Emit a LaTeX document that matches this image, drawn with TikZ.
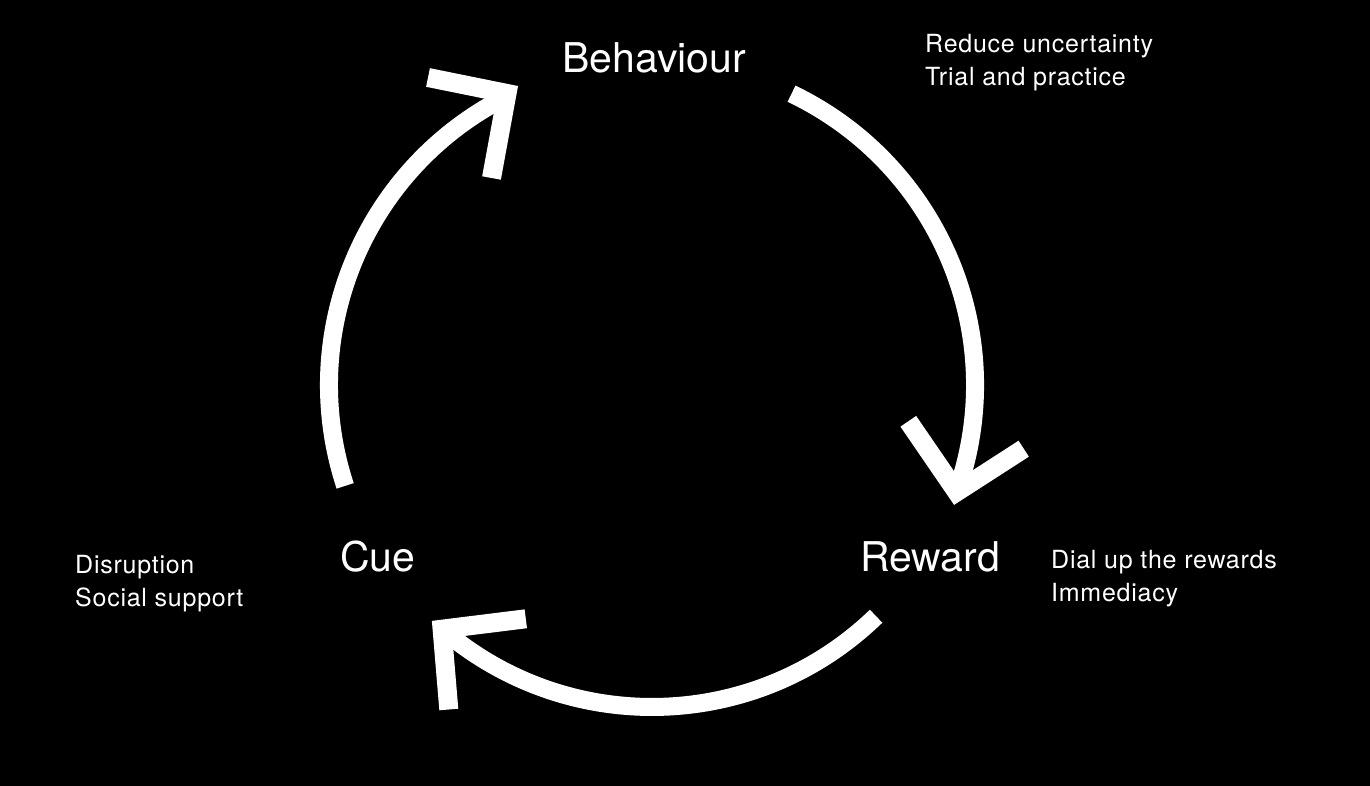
\documentclass[tikz,border=0pt]{standalone}
\usepackage{fontspec}
\setmainfont{TeX Gyre Heros}
\begin{document}
\begin{tikzpicture}[x=1pt,y=1pt,
  bigtext/.style={anchor=base west, inner sep=0pt, text=white, font=\fontsize{41}{48}\selectfont},
  smalltext/.style={anchor=base west, inner sep=0pt, text=white, font=\fontsize{25}{29}\selectfont\addfontfeatures{LetterSpace=3}},
  cyclearc/.style={draw=white, line width=18pt, line cap=butt},
  chevron/.style={draw=white, line width=19pt, line cap=butt, line join=miter}]
\fill[black] (0,0) rectangle (1370,786);
\useasboundingbox (0,0) rectangle (1370,786);
\coordinate (C) at (652,401);
% labels
\node[bigtext] (beh) at (562,713.3) {Behaviour};
\node[bigtext] (cue) at (340,214.3) {Cue};
\node[bigtext] (rew) at (860,214.3) {Reward};
\node[smalltext] (b1) at (925,733.7) {Reduce uncertainty};
\node[smalltext] (b2) at (925,700) {Trial and practice};
\node[smalltext] (c1) at (75,212.7) {Disruption};
\node[smalltext] (c2) at (75,179.3) {Social support};
\node[smalltext] (r1) at (1051,217.7) {Dial up the rewards};
\node[smalltext] (r2) at (1051,184.3) {Immediacy};
% arcs
\draw[cyclearc] (C) ++(198.2:323) arc[start angle=198.2, end angle=117.5, radius=323];
\draw[cyclearc] (C) ++(64.4:323) arc[start angle=64.4, end angle=-18, radius=323];
\draw[cyclearc] (C) ++(-45.9:322) arc[start angle=-45.9, end angle=-129.5, radius=322];
% arrowheads
\coordinate (t1) at (507,692.5);
\coordinate (a1) at (428,708.5);
\coordinate (b1e) at (491.5,608);
\draw[chevron] (a1) -- (t1) -- (b1e);
\coordinate (t2) at (956.7,294.1);
\coordinate (a2) at (908.3,364.7);
\coordinate (b2e) at (1023.7,337.3);
\draw[chevron] (a2) -- (t2) -- (b2e);
\coordinate (t3) at (442.1,156.8);
\coordinate (a3) at (525.8,167.2);
\coordinate (b3e) at (448.8,76.5);
\draw[chevron] (a3) -- (t3) -- (b3e);
\end{tikzpicture}
\end{document}
